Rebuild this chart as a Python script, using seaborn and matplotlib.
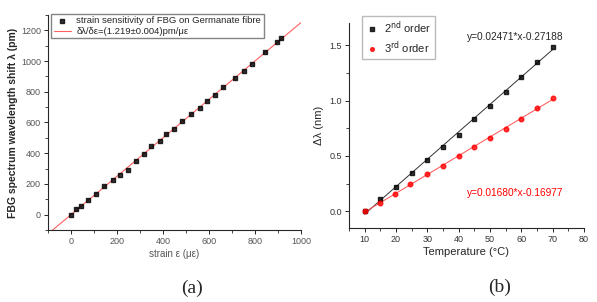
import matplotlib
matplotlib.use("Agg")
import matplotlib.pyplot as plt
import pandas as pd
import seaborn as sns
from matplotlib.ticker import AutoMinorLocator, MultipleLocator

# strain data (left panel)
strain = [0, 22, 43, 76, 108, 144, 181, 215, 246, 284, 317, 346, 386, 415, 446,
          485, 523, 560, 593, 625, 662, 713, 752, 788, 845, 897, 915]
shift_pm = [0, 35, 57, 96, 132, 184, 224, 261, 293, 351, 395, 445, 478, 522, 559,
            612, 655, 695, 739, 778, 829, 890, 938, 984, 1057, 1122, 1149]

# temperature data (right panel)
temp_2nd = [10, 15, 20, 25, 30, 35, 40, 45, 50, 55, 60, 65, 70]
dl_2nd = [0, 0.112, 0.218, 0.345, 0.464, 0.585, 0.691, 0.834, 0.955, 1.079, 1.212, 1.348, 1.485]
temp_3rd = [10, 15, 19.6, 24.5, 30, 35, 40, 45, 50, 55, 60, 65, 70]
dl_3rd = [0, 0.076, 0.157, 0.248, 0.336, 0.412, 0.5, 0.579, 0.664, 0.743, 0.836, 0.93, 1.027]

sns.set_theme(style="ticks")
plt.rcParams["font.family"] = ["Liberation Sans", "DejaVu Sans"]
plt.rcParams["axes.linewidth"] = 0.8

fig = plt.figure(figsize=(5.97, 3.02), dpi=100)
ax1 = fig.add_axes([0.0804, 0.2384, 0.4236, 0.712])
ax2 = fig.add_axes([0.5846, 0.245, 0.3934, 0.679])

tick_grey = "#555555"

# ---- panel (a)
df_a = pd.DataFrame({"strain": strain, "shift": shift_pm})
ax1.set_xlim(-100, 1000)
ax1.set_ylim(-100, 1300)
sns.regplot(data=df_a, x="strain", y="shift", ax=ax1, ci=None, truncate=False,
            marker="s", color="black",
            scatter_kws={"s": 10, "color": "black", "zorder": 3},
            line_kws={"color": "#ff6060", "lw": 0.8, "zorder": 2,
                      "label": "δλ/δε=(1.219±0.004)pm/με"},
            label="strain sensitivity of FBG on Germanate fibre")
ax1.set_xlim(-100, 1000)
ax1.set_ylim(-100, 1300)
ax1.xaxis.set_major_locator(MultipleLocator(200))
ax1.yaxis.set_major_locator(MultipleLocator(200))
ax1.set_xlabel("strain ε (με)", fontsize=7, color=tick_grey, labelpad=2)
ax1.set_ylabel("FBG spectrum wavelength shift λ (pm)", fontsize=7.5,
               fontweight="bold", labelpad=2)
ax1.legend(loc="upper left", bbox_to_anchor=(0.01, 1.01), fontsize=6.8,
           frameon=True, fancybox=False, edgecolor="#666666",
           handlelength=1.8, handletextpad=0.6, borderpad=0.25,
           labelspacing=0.2, markerscale=0.8, borderaxespad=0.1)
ax1.text(0.57, -0.27, "(a)", transform=ax1.transAxes, ha="center", va="center",
         fontsize=14, family="Liberation Serif")

# ---- panel (b)
df_2 = pd.DataFrame({"T": temp_2nd, "dl": dl_2nd})
df_3 = pd.DataFrame({"T": temp_3rd, "dl": dl_3rd})
sns.regplot(data=df_2, x="T", y="dl", ax=ax2, ci=None, marker="s", color="black",
            scatter_kws={"s": 11, "zorder": 3},
            line_kws={"lw": 0.7, "color": "#333333"},
            label="2$^{\\rm nd}$ order")
sns.regplot(data=df_3, x="T", y="dl", ax=ax2, ci=None, marker="o", color="red",
            scatter_kws={"s": 11, "zorder": 3},
            line_kws={"lw": 0.7, "color": "#ff5050"},
            label="3$^{\\rm rd}$ order")
ax2.set_xlim(5, 80)
ax2.set_ylim(-0.15, 1.7)
ax2.xaxis.set_major_locator(MultipleLocator(10))
ax2.yaxis.set_major_locator(MultipleLocator(0.5))
ax2.yaxis.set_major_formatter(plt.FormatStrFormatter("%.1f"))
ax2.set_xlabel("Temperature (°C)", fontsize=8, labelpad=2)
ax2.set_ylabel("Δλ (nm)", fontsize=8, labelpad=4)
ax2.legend(loc="upper left", bbox_to_anchor=(0.05, 1.04), fontsize=8,
           frameon=True, fancybox=False, edgecolor="#aaaaaa",
           handletextpad=0.5, borderpad=0.3, labelspacing=0.3,
           handlelength=1.2, markerscale=0.8, borderaxespad=0.1)
ax2.text(0.706, 0.93, "y=0.02471*x-0.27188", transform=ax2.transAxes,
         ha="center", va="center", fontsize=7.3)
ax2.text(0.706, 0.17, "y=0.01680*x-0.16977", transform=ax2.transAxes,
         ha="center", va="center", fontsize=7.3, color="red")
ax2.text(0.64, -0.29, "(b)", transform=ax2.transAxes, ha="center", va="center",
         fontsize=14, family="Liberation Serif")

for ax in (ax1, ax2):
    sns.despine(ax=ax)
    ax.xaxis.set_minor_locator(AutoMinorLocator(2))
    ax.yaxis.set_minor_locator(AutoMinorLocator(2))
    ax.tick_params(which="major", direction="out", length=3, width=0.7,
                   labelsize=6.5, labelcolor=tick_grey, pad=2)
    ax.tick_params(which="minor", direction="out", length=2, width=0.6)
ax2.tick_params(which="major", labelcolor="#333333")

fig.savefig("out.png", dpi=100)
